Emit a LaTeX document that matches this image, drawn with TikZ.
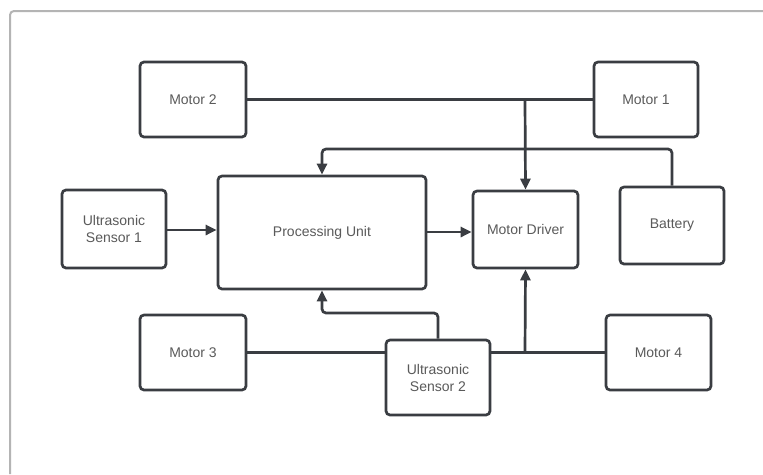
\documentclass[tikz,border=0pt]{standalone}
\usepackage{fontspec}
\setmainfont{Liberation Sans}
\usetikzlibrary{arrows.meta}
\definecolor{edge}{HTML}{3A3D42}
\definecolor{txt}{HTML}{5A5A5A}
\definecolor{frame}{HTML}{B4B4B4}
\tikzset{
  blk/.style={draw=edge, line width=2.7pt, rounded corners=4pt, fill=white, inner sep=0pt, align=center, text=txt, font=\fontsize{14}{17}\selectfont},
  wire/.style={draw=edge, line width=2.7pt, rounded corners=4pt},
  arr/.style={wire, -{Triangle[length=11pt,width=10pt]}}
}
\begin{document}
\begin{tikzpicture}[x=1pt,y=-1pt]
\useasboundingbox (0,0) rectangle (763,474);
\fill[white] (0,0) rectangle (763,474);
% frame
\draw[frame, line width=2pt, rounded corners=4pt] (10,474) -- (10,11) -- (763,11);
% nodes
\node[blk, minimum width=106pt, minimum height=75pt] (m2) at (193,99.5) {Motor 2};
\node[blk, minimum width=104pt, minimum height=75pt] (m1) at (646,99.5) {Motor 1};
\node[blk, minimum width=104pt, minimum height=78pt] (us1) at (114,229) {Ultrasonic\\Sensor 1};
\node[blk, minimum width=208pt, minimum height=113pt] (pu) at (322,232.5) {Processing Unit};
\node[blk, minimum width=105pt, minimum height=77pt] (md) at (525.5,229.5) {Motor Driver};
\node[blk, minimum width=104pt, minimum height=77pt] (bat) at (672,225.5) {Battery};
\node[blk, minimum width=106pt, minimum height=75pt] (m3) at (193,352.5) {Motor 3};
\node[blk, minimum width=104pt, minimum height=75pt] (us2) at (438,377.5) {Ultrasonic\\Sensor 2};
\node[blk, minimum width=105pt, minimum height=75pt] (m4) at (658.5,352.5) {Motor 4};
% coordinates
\coordinate (j1) at (525,99.5);
\coordinate (j2) at (525,352.5);
% connectors
\draw[wire] (m2.east) -- (m1.west);
\draw[arr] (j1) -- (md.north);
\draw[arr] (bat.north) |- (pu.north |- 0,149) -- (pu.north);
\draw[arr] (us1.east |- 0,230) -- (pu.west |- 0,230);
\draw[arr] (pu.east |- 0,232) -- (md.west |- 0,232);
\draw[wire] (m3.east) -- (us2.west |- m3.east);
\draw[wire] (us2.east |- m4.west) -- (m4.west);
\draw[arr] (j2) -- (md.south);
\draw[arr] (us2.north) |- (pu.south |- 0,313) -- (pu.south);
\end{tikzpicture}
\end{document}
